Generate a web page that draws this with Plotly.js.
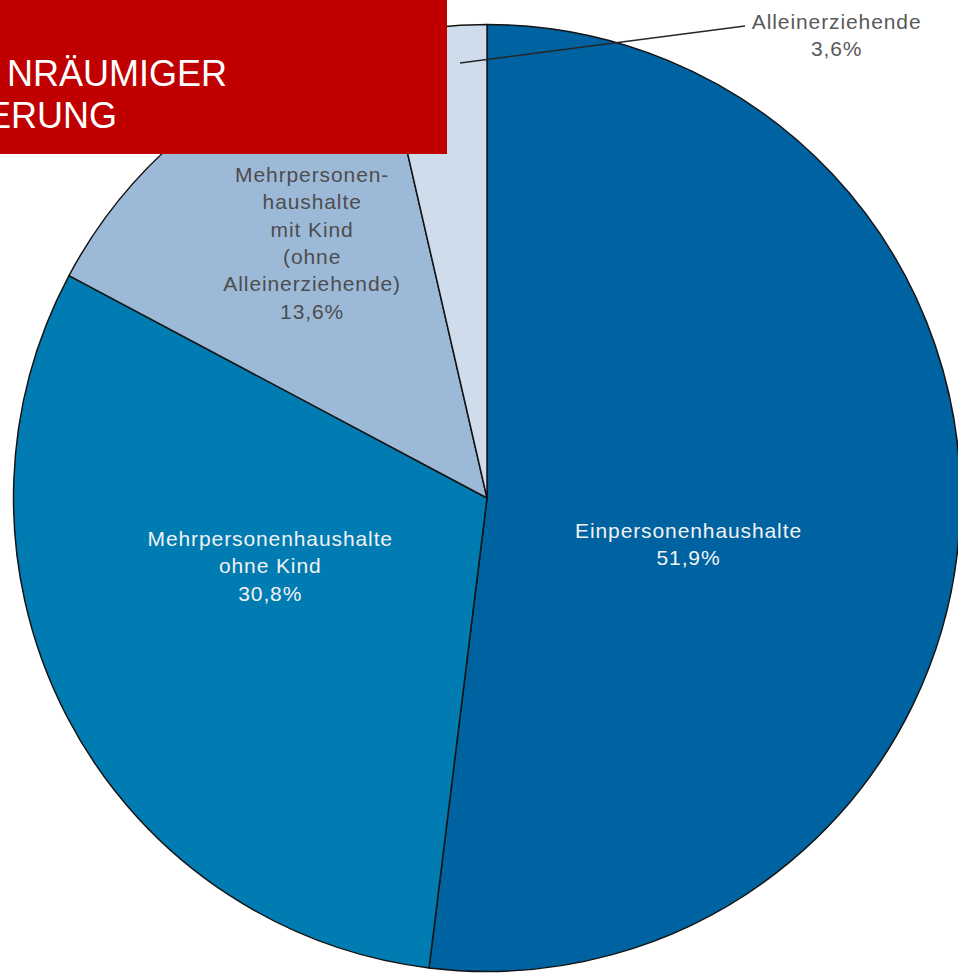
<!DOCTYPE html>
<html>
<head>
<meta charset="utf-8">
<script src="https://cdn.plot.ly/plotly-3.0.1.min.js"></script>
<style>
  html, body { margin: 0; padding: 0; overflow: hidden; background: #fff; }
  #chart { width: 970px; height: 973px; }
</style>
</head>
<body>
<div id="chart"></div>
<script>
// ---- data ----
const categories = [
  'Einpersonenhaushalte',
  'Mehrpersonenhaushalte ohne Kind',
  'Mehrpersonenhaushalte mit Kind (ohne Alleinerziehende)',
  'Alleinerziehende'
];
const shares = [51.9, 30.8, 13.6, 3.6];
const labelLines = [
  ['Einpersonenhaushalte'],
  ['Mehrpersonenhaushalte', 'ohne Kind'],
  ['Mehrpersonen-', 'haushalte', 'mit Kind', '(ohne', 'Alleinerziehende)'],
  ['Alleinerziehende']
];
const bannerLines = ['NRÄUMIGER', 'ERUNG'];

// ---- styling / layout ----
const W = 970, H = 973;
const px = (x) => x / W;
const py = (y) => 1 - y / H;
const sliceColors = ['#0063A1', '#007CB3', '#9DB9D8', '#CFDCEB'];
const labelColors = ['#F2F2F2', '#F2F2F2', '#4D4D4D', '#595959'];
const labelPos = [[688, 544], [270, 566], [312, 243], [836, 35]];
const cx = 487, cy = 498, r = 473.5;

const fmt = (v) => v.toFixed(1).replace('.', ',') + '%';

const trace = {
  type: 'pie',
  labels: categories,
  values: shares,
  sort: false,
  direction: 'clockwise',
  rotation: 0,
  textinfo: 'none',
  hoverinfo: 'skip',
  marker: { colors: sliceColors, line: { color: '#141414', width: 1.5 } },
  domain: { x: [px(cx - r), px(cx + r)], y: [py(cy + r), py(cy - r)] },
  showlegend: false
};

const annotations = categories.map((c, i) => ({
  xref: 'paper', yref: 'paper',
  x: px(labelPos[i][0]), y: py(labelPos[i][1]),
  xanchor: 'center', yanchor: 'middle',
  text: labelLines[i].concat([fmt(shares[i])]).join('<br>'),
  showarrow: false,
  align: 'center',
  font: { family: 'Liberation Sans, Arial, sans-serif', size: 21, color: labelColors[i] }
}));

const bannerRight = [229, 119];
const bannerY = [73.5, 115];
bannerLines.forEach((t, i) => annotations.push({
  xref: 'paper', yref: 'paper',
  x: px(bannerRight[i]), y: py(bannerY[i]),
  xanchor: 'right', yanchor: 'middle',
  text: t, showarrow: false,
  font: { family: 'Liberation Sans, Arial, sans-serif', size: 36, color: '#FFFFFF' }
}));

const shapes = [
  { type: 'line', xref: 'paper', yref: 'paper', layer: 'above',
    x0: px(460), y0: py(63), x1: px(745), y1: py(26),
    line: { color: '#262626', width: 1.5 } },
  { type: 'rect', xref: 'paper', yref: 'paper', layer: 'above',
    x0: px(-5), y0: py(154), x1: px(447), y1: py(-5),
    fillcolor: '#C00000', line: { width: 0 } }
];

const layout = {
  width: W, height: H,
  margin: { l: 0, r: 0, t: 0, b: 0 },
  paper_bgcolor: '#FFFFFF',
  showlegend: false,
  annotations: annotations,
  shapes: shapes
};

Plotly.newPlot('chart', [trace], layout, { staticPlot: true, displayModeBar: false }).then(() => {
  // slightly looser letter spacing for the slice labels, as in the reference
  document.querySelectorAll('.annotation').forEach((g) => {
    const idx = +g.getAttribute('data-index');
    if (idx < categories.length) {
      g.querySelectorAll('text').forEach((t) => t.style.letterSpacing = '0.9px');
    }
  });
});
</script>
</body>
</html>
